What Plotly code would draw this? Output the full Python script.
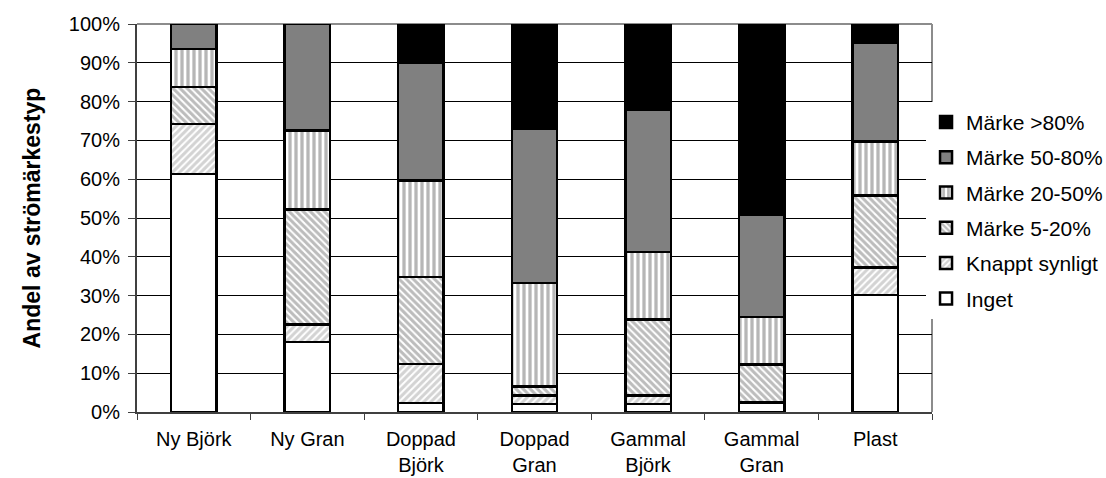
import plotly.graph_objects as go

# Kategorier (två rader där etiketten bryts)
categories = ["Ny Björk", "Ny Gran", "Doppad<br>Björk", "Doppad<br>Gran",
              "Gammal<br>Björk", "Gammal<br>Gran", "Plast"]

# Andel (%) per strömärkestyp, nedifrån och upp i stapeln
inget = [61.3, 18.1, 2.3, 2.1, 2.1, 2.3, 30.1]
knappt_synligt = [12.9, 4.5, 10.1, 2.2, 2.2, 0.3, 7.1]
marke_5_20 = [9.6, 29.6, 22.4, 2.3, 19.5, 9.6, 18.6]
marke_20_50 = [9.7, 20.4, 24.9, 26.6, 17.4, 12.3, 13.9]
marke_50_80 = [6.5, 27.4, 30.2, 39.8, 36.8, 26.3, 25.5]
marke_over_80 = [0.0, 0.0, 10.1, 27.0, 22.0, 49.2, 4.8]

series = [
    ("Inget", inget, dict(color="white")),
    ("Knappt synligt", knappt_synligt,
     dict(color="white", pattern=dict(shape="/", fgcolor="#a8a8a8", bgcolor="white",
                                      size=5, solidity=0.6))),
    ("Märke 5-20%", marke_5_20,
     dict(color="white", pattern=dict(shape="\\", fgcolor="#7a7a7a", bgcolor="white",
                                      size=5, solidity=0.6))),
    ("Märke 20-50%", marke_20_50,
     dict(color="white", pattern=dict(shape="|", fgcolor="#6e6e6e", bgcolor="white",
                                      size=6, solidity=0.55))),
    ("Märke 50-80%", marke_50_80, dict(color="#808080")),
    ("Märke >80%", marke_over_80, dict(color="black")),
]

FONT = "Liberation Sans, Arial, sans-serif"

fig = go.Figure()
n = len(series)
for i, (name, values, marker) in enumerate(series):
    fig.add_trace(go.Bar(
        x=categories, y=values, name=name, legendgroup=name,
        legendrank=n - i,  # översta segmentet först i förklaringen
        marker=dict(**marker, line=dict(color="black", width=2.5)),
        hoverinfo="skip",
    ))

fig.update_layout(
    width=1106, height=478,
    margin=dict(l=137, r=174, t=24, b=66, autoexpand=False),
    paper_bgcolor="white", plot_bgcolor="white",
    barmode="stack", bargap=0.6,
    font=dict(family=FONT, size=20, color="black"),
    legend=dict(
        x=0.9925, xanchor="left", y=0.52, yanchor="middle",
        traceorder="grouped", tracegroupgap=5,
        bgcolor="white", borderwidth=0,
        font=dict(family=FONT, size=21, color="black"),
        itemwidth=30,
    ),
    showlegend=True,
    shapes=[
        dict(type="line", xref="paper", yref="paper", x0=0, x1=1, y0=1, y1=1,
             line=dict(color="#8c8c8c", width=2), layer="below"),
        dict(type="line", xref="paper", yref="paper", x0=1, x1=1, y0=0, y1=1,
             line=dict(color="#8c8c8c", width=2), layer="below"),
    ],
)

fig.update_xaxes(
    automargin=False,
    showgrid=False, showline=True, linecolor="#404040", linewidth=2,
    ticks="outside", ticklen=6, tickcolor="#404040", tickwidth=1,
    tickson="boundaries", ticklabelstandoff=8,
    tickfont=dict(family=FONT, size=20),
)

fig.update_yaxes(
    automargin=False,
    range=[0, 100], dtick=10, ticksuffix="%",
    showgrid=True, gridcolor="black", gridwidth=1,
    showline=True, linecolor="#404040", linewidth=2,
    ticks="outside", ticklen=7, tickcolor="#404040", tickwidth=1,
    ticklabelstandoff=4,
    tickfont=dict(family=FONT, size=20),
    title=dict(text="<b>Andel av strömärkestyp</b>", standoff=22,
               font=dict(family=FONT, size=23)),
    zeroline=False,
)

fig.write_html("out.html")
